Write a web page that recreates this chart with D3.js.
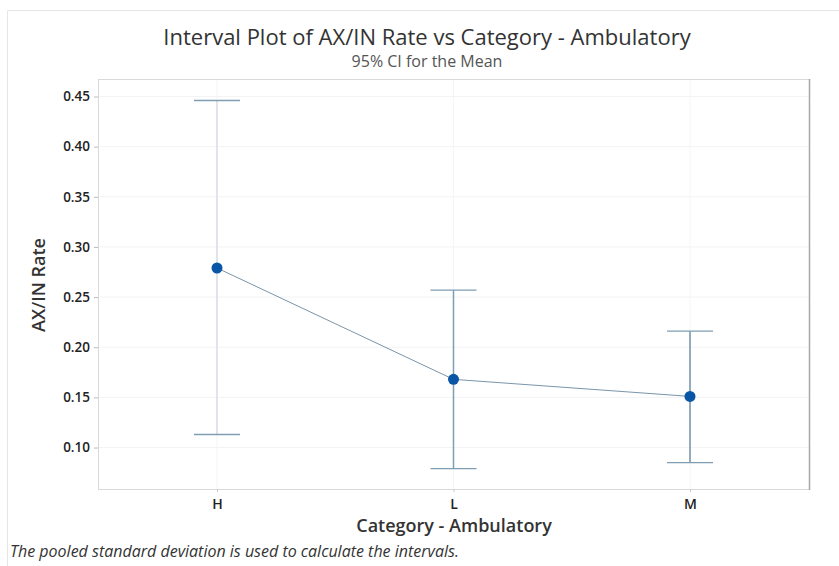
<!DOCTYPE html>
<html><head><meta charset="utf-8">
<script src="https://cdn.jsdelivr.net/npm/d3@7"></script>
<style>body{margin:0;background:#fff;} text{font-family:"Open Sans","Noto Sans",sans-serif;}</style>
</head><body>
<svg id="c" width="839" height="566"></svg>
<script>
const categories = ["H", "L", "M"];
const means = [0.279, 0.168, 0.151];
const lowers = [0.113, 0.079, 0.085];
const uppers = [0.446, 0.257, 0.216];
const yTicks = [0.10, 0.15, 0.20, 0.25, 0.30, 0.35, 0.40, 0.45];

const svg = d3.select("#c");
const L = 98, R = 809, T = 79, B = 489;
// outer frame
svg.append("path").attr("d", `M7.5,566 L7.5,10.5 L839,10.5`).attr("fill","none").attr("stroke","#e6e6e6");

const y = d3.scaleLinear().domain([0.45 - (489-96.5)/1003, 0.45 + (96.5-79)/1003]).range([B, T]);
const x = d3.scalePoint().domain(categories).range([217, 690]);

// gridlines
svg.append("g").selectAll("line").data(yTicks).join("line")
  .attr("x1", L).attr("x2", R).attr("y1", d=>y(d)).attr("y2", d=>y(d))
  .attr("stroke", "#f3f3f3");
svg.append("g").selectAll("line").data(categories).join("line")
  .attr("x1", d=>x(d)).attr("x2", d=>x(d)).attr("y1", T).attr("y2", B)
  .attr("stroke", "#f5f5f5");

// frame
svg.append("rect").attr("x", L+0.5).attr("y", T+0.5).attr("width", R-L).attr("height", B-T)
  .attr("fill","none").attr("stroke","#d9d9d9");
svg.append("line").attr("x1", R+0.5).attr("x2", R+0.5).attr("y1", T).attr("y2", B+1).attr("stroke","#a8a8a8").attr("stroke-width",1.5);

// axes
const ya = svg.append("g").attr("transform", `translate(${L},0)`)
  .call(d3.axisLeft(y).tickValues(yTicks).tickFormat(d3.format(".2f")).tickSize(4).tickPadding(4));
ya.select(".domain").remove();
ya.selectAll(".tick line").attr("stroke","#bbb");
ya.selectAll(".tick text").attr("font-size", 13.5).attr("font-weight", 600).attr("fill","#222");

const xa = svg.append("g").attr("transform", `translate(0,${B})`)
  .call(d3.axisBottom(x).tickSize(3).tickPadding(7));
xa.select(".domain").remove();
xa.selectAll(".tick line").attr("stroke","#ccc");
xa.selectAll(".tick text").attr("font-size", 14).attr("font-weight", 600).attr("fill","#222");

// error bars
const errColors = ["#d8dde3", "#7f9db3", "#6f90a8"];
const g = svg.append("g");
categories.forEach((c, i) => {
  g.append("line").attr("x1", x(c)).attr("x2", x(c)).attr("y1", y(uppers[i])).attr("y2", y(lowers[i]))
    .attr("stroke", errColors[i]).attr("stroke-width", 1.5);
  [uppers[i], lowers[i]].forEach(v => {
    g.append("line").attr("x1", x(c)-23).attr("x2", x(c)+23).attr("y1", y(v)).attr("y2", y(v))
      .attr("stroke", "#7f9db3").attr("stroke-width", 1.3);
  });
});

// mean line
svg.append("path").datum(categories.map((c,i)=>[x(c), y(means[i])]))
  .attr("d", d3.line()).attr("fill","none").attr("stroke","#6a88a0").attr("stroke-width",0.9);
svg.append("g").selectAll("circle").data(categories).join("circle")
  .attr("cx", d=>x(d)).attr("cy", (d,i)=>y(means[i])).attr("r", 5.5).attr("fill", "#0a56a6");

// titles
svg.append("text").attr("x", 427).attr("y", 45).attr("text-anchor","middle")
  .attr("font-size", 22).attr("fill","#333").text("Interval Plot of AX/IN Rate vs Category - Ambulatory");
svg.append("text").attr("x", 427).attr("y", 67).attr("text-anchor","middle")
  .attr("font-size", 16).attr("fill","#555").text("95% CI for the Mean");
svg.append("text").attr("transform", "translate(45,285) rotate(-90)").attr("text-anchor","middle")
  .attr("font-size", 18).attr("font-weight", 600).attr("fill","#333").text("AX/IN Rate");
svg.append("text").attr("x", 454).attr("y", 532).attr("text-anchor","middle")
  .attr("font-size", 18).attr("font-weight", 600).attr("fill","#333").text("Category - Ambulatory");
svg.append("text").attr("x", 10).attr("y", 557)
  .attr("font-size", 16).attr("font-style","italic").attr("fill","#333").text("The pooled standard deviation is used to calculate the intervals.");
</script>
</body></html>
